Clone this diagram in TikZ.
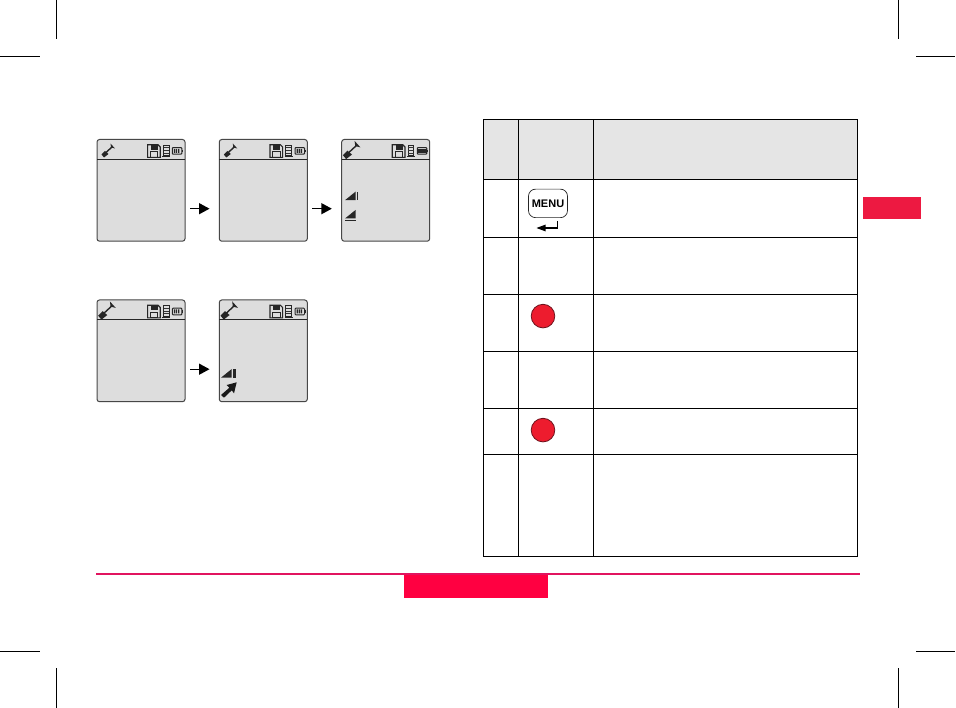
\documentclass[tikz,border=0pt]{standalone}
\usepackage{fontspec}
\setmainfont{Liberation Sans}
\definecolor{tabred}{RGB}{237,25,65}
\definecolor{footred}{RGB}{255,0,65}
\definecolor{rulered}{RGB}{225,20,95}
\definecolor{lcd}{RGB}{221,221,221}
\definecolor{headgrey}{RGB}{229,229,229}
\definecolor{btnred}{RGB}{237,28,46}
\definecolor{btnedge}{RGB}{110,20,30}
\begin{document}
\begin{tikzpicture}[x=1pt,y=-1pt,
  crop/.style={line width=0.8pt,black},
  grid/.style={line width=0.9pt,black},
  screen/.style={fill=lcd,draw=black!72,line width=1pt,rounded corners=2.5pt},
  redbtn/.style={circle,fill=btnred,draw=btnedge,line width=0.8pt,minimum size=23.6pt,inner sep=0pt},
  arrowln/.style={line width=0.9pt,black}
]
\useasboundingbox (0,0) rectangle (956,708);
\fill[white] (0,0) rectangle (956,708);
\tikzset{
 shovel/.pic={
   \fill[black!85] (-11,8) -- (-7.5,4.5) -- (-4,7.5) -- (-8.5,11) -- cycle;
   \draw[black!85,line width=1.4pt] (-6.5,6) -- (0,0);
   \fill[black!85] (-2,-3) -- (2.5,2) -- (-1.5,1) -- cycle;
 },
 disk/.pic={
   \draw[black!85,line width=1.2pt] (-0.7,0) -- (9.8,0) -- (12,2.2) -- (12,12.6) -- (-0.7,12.6) -- cycle;
   \fill[black!85] (2.8,0) rectangle (9.5,4.8);
   \draw[black!85,line width=1pt] (2.2,7) rectangle (9.5,12.6);
   \draw[black!85,line width=1pt] (15.3,0.3) rectangle (20.7,11);
   \draw[black!80,line width=0.7pt] (15.3,3) -- (20.7,3) (15.3,5.7) -- (20.7,5.7) (15.3,8.4) -- (20.7,8.4);
   \draw[black!85,line width=1.2pt] (14,12) -- (22,12);
 },
 batt/.pic={
   \draw[black!85,line width=1pt,rounded corners=0.8pt] (0,0) rectangle (9.5,6.6);
   \fill[black!85] (9.5,2) rectangle (11,4.6);
   \fill[black!85] (1.5,1.3) rectangle (2.8,5.3) (3.6,1.3) rectangle (4.9,5.3) (5.7,1.3) rectangle (7,5.3);
 },
 battfull/.pic={
   \draw[black!85,line width=1pt,rounded corners=0.8pt] (0,0) rectangle (9.5,6.6);
   \fill[black!85] (9.5,2) rectangle (11,4.6);
   \fill[black!85] (0,1.2) rectangle (9.5,5.4);
 },
 wedge/.pic={
   \fill[black!85] (0,8.5) -- (10.5,0) -- (10.5,8.5) -- cycle;
 },
 bar/.pic={
   \fill[black!85] (12,0) rectangle (\barw,8.5);
 },
 under/.pic={
   \fill[black!85] (0,10) rectangle (11,11.2);
 }
}
% crop marks
\draw[crop] (0,56.5) -- (40,56.5);
\draw[crop] (56.5,0) -- (56.5,39);
\draw[crop] (898.5,0) -- (898.5,39);
\draw[crop] (916,56.5) -- (955,56.5);
\draw[crop] (0,651.5) -- (40,651.5);
\draw[crop] (56.5,668) -- (56.5,708);
\draw[crop] (898.5,668) -- (898.5,708);
\draw[crop] (916,651.5) -- (955,651.5);
% screens
\foreach \n/\x/\y/\sc/\sy in {sa/97/139.5/1/7,sb/219.3/139.5/1/7,sc/341.7/139.5/1.3/5.3,sd/97/300/1.3/5.3,se/219.3/300/1.3/5.3}{
  \draw[screen] (\x,\y) rectangle ++(88,101.7);
  \path (\x+15.5,\y+\sy) pic[scale=\sc] {shovel};
  \draw[black!85,line width=0.9pt] (\x,\y+19.8) -- ++(88,0);
  \path (\x+51.3,\y+5.3) pic {disk};
}
\path (172.3,147.6) pic {batt};
\path (295,147.6) pic {batt};
\path (417.3,147.6) pic {battfull};
\path (172.3,308.2) pic {batt};
\path (295,308.2) pic {batt};
% signal icons
\def\barw{13.2}
\path (345,191.7) pic {wedge};
\path (345,191.7) pic {bar};
\path (345,210) pic {wedge};
\path (345,210) pic {under};
\def\barw{14.7}
\path (221,369.2) pic {wedge};
\path (221,369.2) pic {bar};
% big arrow
\fill[black!90] (236.7,382.3) -- (226.7,385) -- (229.3,387.8) -- (221,395) -- (224,397.7) -- (231.8,390.3) -- (234,393.3) -- cycle;
% flow arrows
\coordinate (a1) at (190,208.7); \coordinate (a2) at (209.5,208.7);
\coordinate (b1) at (312.3,208.7); \coordinate (b2) at (331.8,208.7);
\coordinate (c1) at (190,369.2); \coordinate (c2) at (209.5,369.2);
\foreach \s/\e in {a1/a2,b1/b2,c1/c2}{
  \draw[arrowln] (\s) -- ++(10,0);
  \fill[black] (\e) -- ++(-10.5,-5.7) -- ++(0,11.4) -- cycle;
}
% table
\fill[headgrey] (483.5,119.7) rectangle (857.5,179.5);
\draw[grid] (483.5,119.7) rectangle (857.5,556);
\foreach \y in {179.5,237.3,294.3,351.3,408.3,454.5}{\draw[grid] (483.5,\y) -- (857.5,\y);}
\draw[grid] (518.3,119.7) -- (518.3,556);
\draw[grid] (593.3,119.7) -- (593.3,556);
% menu key
\node[draw=black!85,line width=0.7pt,rounded corners=7pt,minimum width=39pt,minimum height=28.5pt,inner sep=0pt,font=\bfseries\fontsize{11}{11}\selectfont] (menu) at (548,203.4) {MENU};
\draw[black,line width=1.6pt] (557.3,221) -- (557.3,228) -- (544,228);
\fill[black] (536.5,228) -- (545.5,224.6) -- (545.5,231.4) -- cycle;
% red buttons
\node[redbtn] (r1) at (543,316.1) {};
\node[redbtn] (r2) at (543,430.1) {};
% side tab, footer
\fill[tabred] (863,197) rectangle (921,218.7);
\draw[rulered,line width=1.7pt] (96,574) -- (860,574);
\fill[footred] (404,574.8) rectangle (548,597.7);
\end{tikzpicture}
\end{document}
